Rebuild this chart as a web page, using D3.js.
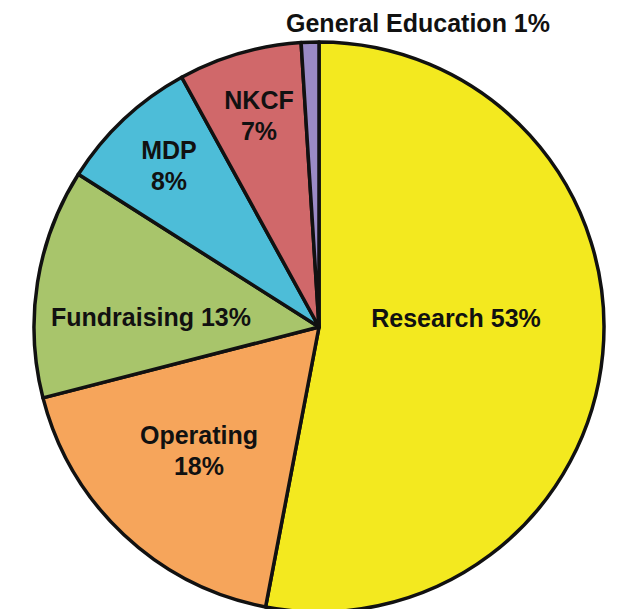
<!DOCTYPE html>
<html>
<head>
<meta charset="utf-8">
<script src="https://cdn.jsdelivr.net/npm/d3@7"></script>
<style>
  body { margin: 0; background: #fff; }
  text { font-family: "Liberation Sans", Arial, Helvetica, sans-serif; font-weight: bold; fill: #111; }
</style>
</head>
<body>
<svg width="618" height="609"></svg>
<script>
const svg = d3.select("svg");

// Slice data, clockwise from 12 o'clock
const categories = ["Research", "Operating", "Fundraising", "MDP", "NKCF", "General Education"];
const values = [53, 18, 13, 8, 7, 1];
const colours = ["#f3e91f", "#f6a55b", "#a8c56b", "#4dbdd8", "#d0686a", "#9a8ac6"];

// Label text lines per slice
const labelLines = [
    ["Research 53%"],
    ["Operating", "18%"],
    ["Fundraising 13%"],
    ["MDP", "8%"],
    ["NKCF", "7%"],
    ["General Education 1%"]
];

const cx = 319, cy = 327, radius = 285;

const slices = categories.map((c, i) => ({ name: c, value: values[i], colour: colours[i], lines: labelLines[i] }));

const pie = d3.pie()
    .sort(null)
    .value(d => d.value)
    .startAngle(0)
    .endAngle(2 * Math.PI);

const arc = d3.arc()
    .innerRadius(0)
    .outerRadius(radius);

const chart = svg.append("g")
    .attr("transform", `translate(${cx}, ${cy})`);

const arcs = pie(slices);

chart.selectAll("path").data(arcs)
    .enter().append("path")
    .attr("d", arc)
    .attr("fill", d => d.data.colour)
    .attr("stroke", "#111")
    .attr("stroke-width", 3.5)
    .attr("stroke-linejoin", "round");

// Where each label sits (text centre, first baseline)
const labelPos = {
    "Research": [456, 327],
    "Operating": [199, 444],
    "Fundraising": [151, 326],
    "MDP": [169, 159],
    "NKCF": [259, 109],
    "General Education": [418, 32]
};

const labels = svg.append("g");

arcs.forEach(d => {
    const p = labelPos[d.data.name];
    const t = labels.append("text")
        .attr("text-anchor", "middle")
        .attr("font-size", 25)
        .attr("x", p[0])
        .attr("y", p[1]);
    d.data.lines.forEach((line, j) => {
        t.append("tspan")
            .attr("x", p[0])
            .attr("dy", j === 0 ? 0 : 31)
            .text(line);
    });
});
</script>
</body>
</html>
